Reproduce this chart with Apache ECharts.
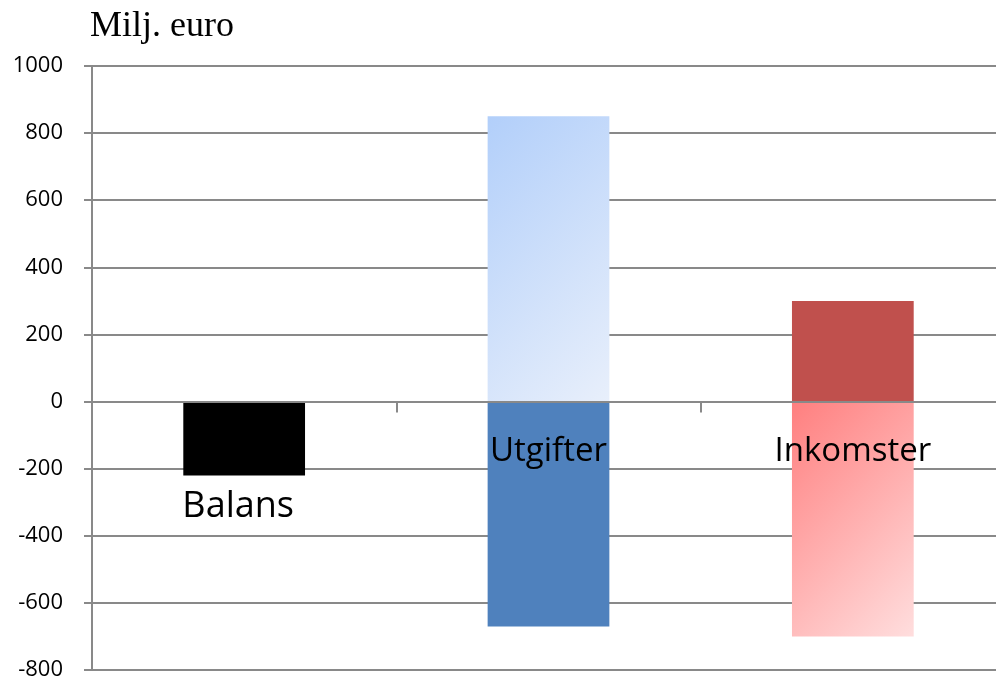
<!DOCTYPE html>
<html>
<head>
<meta charset="utf-8">
<script src="https://cdn.jsdelivr.net/npm/echarts@6/dist/echarts.min.js"></script>
<style>html,body{margin:0;padding:0;background:#fff;overflow:hidden;width:996px;height:681px}#c{width:1005px;height:681px}</style>
</head>
<body>
<div id="c"></div>
<script>
const categories = ['Balans', 'Utgifter', 'Inkomster'];
const positiveValues = [null, 850, 300];
const negativeValues = [-220, -670, -700];
const yTicks = { min: -800, max: 1000, interval: 200 };
const unitLabel = 'Milj. euro';

const chart = echarts.init(document.getElementById('c'), null, { renderer: 'canvas' });
const gridColor = '#898989';

const posColors = [
  '#000',
  { type: 'linear', x: 0, y: 0, x2: 1.67, y2: 0.71, colorStops: [{ offset: 0, color: '#b2cffa' }, { offset: 1, color: '#e8effb' }] },
  '#c0504d'
];
const negColors = [
  '#000000',
  '#4f81bd',
  { type: 'linear', x: 0, y: 0, x2: 1.47, y2: 0.76, colorStops: [{ offset: 0, color: '#ff7f7f' }, { offset: 1, color: '#ffdede' }] }
];
const negLabelPos = [[ '50%', 105 ], [ '50%', 50 ], [ '50%', 50 ]];
const negLabelOffset = [[-6, 0], [0, 0], [0, 0]];
const negLabelSize = [36, 33, 33];

chart.setOption({
  animation: false,
  title: {
    text: unitLabel, left: 85, top: 4,
    textStyle: { fontFamily: 'Liberation Serif', fontSize: 36, fontWeight: 'normal', color: '#000' }
  },
  grid: { left: 92, top: 66, right: 0, bottom: 10, containLabel: false },
  xAxis: {
    type: 'category', data: categories, z: 5,
    axisLine: { onZero: true, lineStyle: { color: gridColor, width: 2 } },
    axisTick: { show: true, length: 11, lineStyle: { color: gridColor, width: 2 } },
    axisLabel: { show: false },
    splitLine: { show: false }
  },
  yAxis: {
    type: 'value', min: yTicks.min, max: yTicks.max, interval: yTicks.interval,
    axisLine: { show: true, lineStyle: { color: gridColor, width: 2 } },
    axisTick: { show: true, length: 8, lineStyle: { color: gridColor, width: 2 } },
    axisLabel: { fontFamily: 'Open Sans', fontSize: 22, color: '#000', margin: 29, formatter: v => String(v) },
    splitLine: { show: true, lineStyle: { color: gridColor, width: 2 } }
  },
  series: [
    {
      type: 'bar', barWidth: '40%', barGap: '-100%',
      data: positiveValues.map((v, i) => ({ value: v, itemStyle: { color: posColors[i] } }))
    },
    {
      type: 'bar', barWidth: '40%', barGap: '-100%',
      data: negativeValues.map((v, i) => ({
        value: v,
        itemStyle: { color: negColors[i] },
        label: {
          show: true, formatter: categories[i], position: negLabelPos[i], offset: negLabelOffset[i],
          align: 'center', verticalAlign: 'middle',
          fontFamily: 'Open Sans', fontSize: negLabelSize[i], color: '#000'
        }
      }))
    }
  ]
});
</script>
</body>
</html>
